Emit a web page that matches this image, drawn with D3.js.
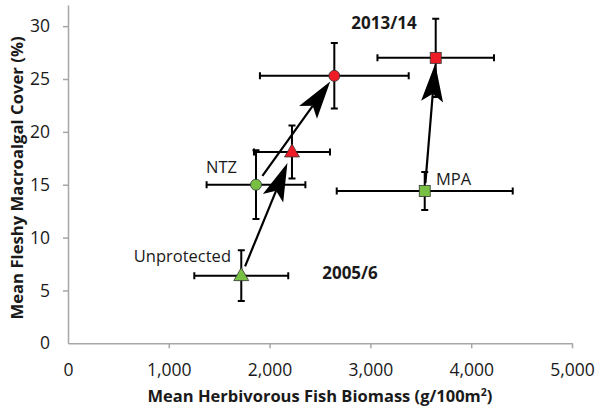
<!DOCTYPE html>
<html><head><meta charset="utf-8">
<script src="https://cdn.jsdelivr.net/npm/d3@7"></script>
<style>
body{margin:0;background:#fff;}
svg{display:block;font-family:"Open Sans",sans-serif;}
</style></head><body>
<svg id="c" width="600" height="411"></svg>
<script>
// ---- data ----
const sites = ["Unprotected", "NTZ", "MPA"];
const periods = ["2005/6", "2013/14"];
const biomass2005 = [1719, 1865, 3539];
const biomassErr2005 = [466, 490, 873];
const cover2005 = [6.4, 15.0, 14.4];
const coverErr2005 = [2.4, 3.25, 1.8];
const biomass2013 = [2222, 2642, 3648];
const biomassErr2013 = [377, 738, 578];
const cover2013 = [18.1, 25.3, 27.0];
const coverErr2013 = [2.5, 3.1, 3.7];
const markerShapes = ["triangle", "circle", "square"];
const xTicks = [0, 1000, 2000, 3000, 4000, 5000];
const yTicks = [0, 5, 10, 15, 20, 25, 30];

const svg = d3.select("#c");
const x = d3.scaleLinear().domain([0, 5000]).range([68, 572]);
const y = d3.scaleLinear().domain([0, 32]).range([343.3, 5]);
const axisColor = "#a6a6a6";
const textColor = "#1a1a1a";

// axes
const gx = svg.append("g").attr("transform", `translate(0,${y(0)})`)
  .call(d3.axisBottom(x).tickValues(xTicks).tickFormat(d3.format(",")).tickSize(5).tickSizeOuter(0));
const gy = svg.append("g").attr("transform", `translate(${x(0)},0)`)
  .call(d3.axisLeft(y).tickValues(yTicks).tickSize(5).tickSizeOuter(0));
[gx, gy].forEach(g => {
  g.select(".domain").attr("stroke", axisColor).attr("stroke-width", 1.5);
  g.selectAll(".tick line").attr("stroke", axisColor).attr("stroke-width", 1.5);
  g.selectAll(".tick text").attr("fill", textColor).style("font-size", "17.5px").style("font-family", "Open Sans");
});
gx.selectAll(".tick text").attr("dy", 0).attr("y", 33);
gy.selectAll(".tick text").attr("x", -18);
gx.selectAll(".tick").filter(d => d === 0).select("line").remove();
gy.selectAll(".tick").filter(d => d === 0).select("line").remove();

// axis titles
const xt = svg.append("text").attr("x", 320).attr("y", 402).attr("text-anchor", "middle")
  .attr("fill", textColor).style("font-size", "16.5px").style("font-weight", "bold");
xt.append("tspan").text("Mean Herbivorous Fish Biomass (g/100m");
xt.append("tspan").text("2").style("font-size", "10.5px").attr("dy", -6);
xt.append("tspan").text(")").attr("dy", 6);
svg.append("text").attr("transform", "translate(23,178) rotate(-90)").attr("text-anchor", "middle")
  .attr("fill", textColor).style("font-size", "16.7px").style("font-weight", "bold")
  .text("Mean Fleshy Macroalgal Cover (%)");

// rows for both periods
const rows = [];
sites.forEach((s, i) => {
  rows.push({site: s, i, p: 0, bx: biomass2005[i], bxe: biomassErr2005[i], cy: cover2005[i], cye: coverErr2005[i]});
  rows.push({site: s, i, p: 1, bx: biomass2013[i], bxe: biomassErr2013[i], cy: cover2013[i], cye: coverErr2013[i]});
});

// arrows (2005/6 -> 2013/14)
const startGap = [10, 11, 8], endGap = [12, 7, 6];
const ag = svg.append("g");
sites.forEach((s, i) => {
  const x0 = x(biomass2005[i]), y0 = y(cover2005[i]);
  const x1 = x(biomass2013[i]), y1 = y(cover2013[i]);
  const dx = x1 - x0, dy = y1 - y0, len = Math.hypot(dx, dy);
  const ux = dx / len, uy = dy / len;
  const sx = x0 + ux * startGap[i], sy = y0 + uy * startGap[i];
  const tx = x1 - ux * endGap[i], ty = y1 - uy * endGap[i];
  const L = 38, W = 22, N = 30;
  ag.append("line").attr("x1", sx).attr("y1", sy).attr("x2", tx - ux * N).attr("y2", ty - uy * N)
    .attr("stroke", "#000").attr("stroke-width", 2.2);
  const ang = Math.atan2(uy, ux) * 180 / Math.PI;
  ag.append("path").attr("transform", `translate(${tx},${ty}) rotate(${ang})`)
    .attr("d", `M0,0 L${-L},${-W / 2} L${-N},0 L${-L},${W / 2} Z`).attr("fill", "#000");
});

// error bars
const eb = svg.append("g").attr("stroke", "#000").attr("stroke-width", 2).attr("fill", "none");
const cap = 3.5;
rows.forEach(r => {
  const cx = x(r.bx), cy = y(r.cy);
  const xl = x(r.bx - r.bxe), xr = x(r.bx + r.bxe);
  const yt = y(r.cy + r.cye), yb = y(r.cy - r.cye);
  eb.append("path").attr("d",
    `M${xl},${cy}H${xr}M${xl},${cy - cap}V${cy + cap}M${xr},${cy - cap}V${cy + cap}` +
    `M${cx},${yt}V${yb}M${cx - cap},${yt}H${cx + cap}M${cx - cap},${yb}H${cx + cap}`);
});

// markers
const colors = ["#77c043", "#ee1c25"];
const mg = svg.append("g");
rows.forEach(r => {
  const cx = x(r.bx), cy = y(r.cy), shape = markerShapes[r.i];
  let el;
  if (shape === "circle") el = mg.append("circle").attr("cx", cx).attr("cy", cy).attr("r", 5.5);
  else if (shape === "square") el = mg.append("rect").attr("x", cx - 5.5).attr("y", cy - 5.5).attr("width", 11).attr("height", 11);
  else el = mg.append("path").attr("d", `M${cx},${cy - 8}L${cx + 7.5},${cy + 5}L${cx - 7.5},${cy + 5}Z`);
  el.attr("fill", colors[r.p]).attr("stroke", "#333").attr("stroke-width", 0.8);
});

// labels
const siteLabelPos = [[231, 262, "end"], [237, 173, "end"], [436, 185, "start"]];
sites.forEach((s, i) => {
  svg.append("text").attr("x", siteLabelPos[i][0]).attr("y", siteLabelPos[i][1])
    .attr("text-anchor", siteLabelPos[i][2]).attr("fill", textColor).style("font-size", "16.5px").text(s);
});
const periodLabelPos = [[350, 279], [384, 29]];
periods.forEach((p, i) => {
  svg.append("text").attr("x", periodLabelPos[i][0]).attr("y", periodLabelPos[i][1])
    .attr("text-anchor", "middle").attr("fill", textColor).style("font-size", "17px").style("font-weight", "bold").text(p);
});
</script>
</body></html>
